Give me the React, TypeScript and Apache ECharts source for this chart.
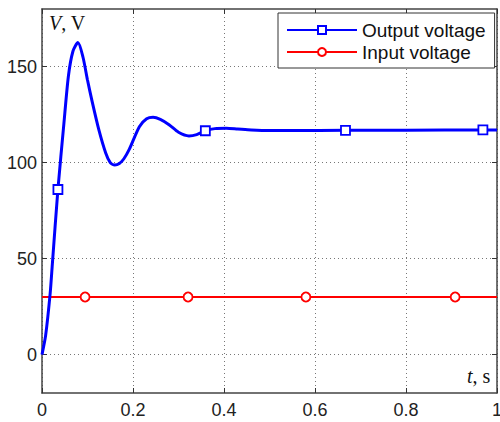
import React, { useEffect, useRef } from "react";
import * as echarts from "echarts";

const outputT = [0, 0.008, 0.018, 0.0227, 0.035, 0.048, 0.058, 0.068, 0.079, 0.09, 0.1, 0.11, 0.125, 0.14, 0.15, 0.16, 0.17, 0.18, 0.192, 0.214, 0.23, 0.244, 0.26, 0.28, 0.3, 0.323, 0.34, 0.359, 0.38, 0.405, 0.43, 0.46, 0.5, 0.55, 0.667, 0.8, 0.969, 1.0];
const outputV = [0, 10, 32, 47, 86, 120, 145, 158, 162.5, 155, 143, 132, 117, 105, 100, 98.7, 99.5, 102, 107, 118.7, 122.8, 123.6, 122.5, 119.6, 115.8, 113.9, 114.6, 116.6, 117.7, 117.9, 117.5, 117.0, 116.7, 116.7, 116.8, 116.9, 117, 117];
const outputMarkers = [0.035, 0.359, 0.667, 0.969];

const inputT = [0, 0.0947, 0.321, 0.58, 0.908, 1.0];
const inputV = [30, 30, 30, 30, 30, 30];
const inputMarkers = [0.0947, 0.321, 0.58, 0.908];

const yTicks = [0, 50, 100, 150];

export default function App() {
  const ref = useRef<HTMLDivElement>(null);
  useEffect(() => {
    if (!ref.current) return;
    const chart = echarts.init(ref.current, null, { renderer: "svg" });
    const outData = outputT.map((t, i) =>
      outputMarkers.includes(t) ? { value: [t, outputV[i]] } : { value: [t, outputV[i]], symbol: "none" }
    );
    const inData = inputT.map((t, i) =>
      inputMarkers.includes(t) ? { value: [t, inputV[i]] } : { value: [t, inputV[i]], symbol: "none" }
    );
    const font = "Liberation Sans";
    const serif = "Liberation Serif";
    const gridLine = { show: true, lineStyle: { color: "#777", type: [1, 3] as any, width: 1 } };
    const axisLine = { show: true, onZero: false, lineStyle: { color: "#444", width: 1.5 } };
    const tick = { show: true, inside: true, length: 5, lineStyle: { color: "#333" } };
    chart.setOption({
      animation: false,
      backgroundColor: "#fff",
      grid: {
        left: 42,
        right: 3,
        top: 9,
        bottom: 29,
        containLabel: false,
        outerBoundsMode: "none",
      },
      xAxis: [
        {
          type: "value",
          min: 0,
          max: 1,
          interval: 0.2,
          position: "bottom",
          axisLine,
          axisTick: tick,
          axisLabel: {
            color: "#222",
            fontSize: 18,
            fontFamily: font,
            margin: 8,
            hideOverlap: false,
            formatter: (v: number) => String(parseFloat(v.toFixed(1))),
          },
          splitLine: gridLine,
        },
        {
          type: "value",
          min: 0,
          max: 1,
          interval: 0.2,
          position: "top",
          axisLine,
          axisTick: tick,
          axisLabel: { show: false },
          splitLine: { show: false },
        },
      ],
      yAxis: [
        {
          type: "value",
          min: -20,
          max: 180,
          position: "left",
          axisLine,
          axisTick: { ...tick, customValues: yTicks },
          axisLabel: { color: "#222", fontSize: 18, fontFamily: font, margin: 5, customValues: yTicks },
          splitLine: gridLine,
        },
        {
          type: "value",
          min: -20,
          max: 180,
          position: "right",
          axisLine,
          axisTick: { ...tick, customValues: yTicks },
          axisLabel: { show: false, customValues: yTicks },
          splitLine: { show: false },
        },
      ],
      legend: {
        left: 278,
        top: 13,
        orient: "vertical",
        data: ["Output voltage", "Input voltage"],
        backgroundColor: "#fff",
        borderColor: "#333",
        borderWidth: 1,
        borderRadius: 0,
        padding: [7, 9, 6, 8],
        itemGap: 2,
        itemWidth: 70,
        itemHeight: 10,
        textStyle: { fontSize: 19, fontFamily: font, color: "#111", lineHeight: 20 },
      },
      graphic: [
        {
          type: "text",
          left: 49,
          top: 13,
          style: {
            text: "{i|V}{n|, V}",
            rich: {
              i: { fontSize: 20, fontFamily: serif, fontStyle: "italic", fill: "#111" },
              n: { fontSize: 20, fontFamily: serif, fill: "#111" },
            },
          },
        },
        {
          type: "text",
          left: 467,
          top: 366,
          style: {
            text: "{i|t}{n|, s}",
            rich: {
              i: { fontSize: 20, fontFamily: serif, fontStyle: "italic", fill: "#111" },
              n: { fontSize: 20, fontFamily: serif, fill: "#111" },
            },
          },
        },
      ],
      series: [
        {
          name: "Input voltage",
          type: "line",
          data: inData,
          symbol: "circle",
          symbolSize: 9,
          showAllSymbol: true,
          lineStyle: { color: "#ff0000", width: 2 },
          itemStyle: { color: "#fff", borderColor: "#ff0000", borderWidth: 1.8 },
          color: "#ff0000",
          z: 2,
        },
        {
          name: "Output voltage",
          type: "line",
          data: outData,
          smooth: 0.25,
          symbol: "rect",
          symbolSize: 9,
          showAllSymbol: true,
          lineStyle: { color: "#0000ff", width: 3 },
          itemStyle: { color: "#fff", borderColor: "#0000ff", borderWidth: 1.8 },
          color: "#0000ff",
          z: 3,
        },
      ],
    });
    return () => chart.dispose();
  }, []);
  return <div ref={ref} style={{ width: 500, height: 422, position: "absolute", left: 0, top: 0 }} />;
}
